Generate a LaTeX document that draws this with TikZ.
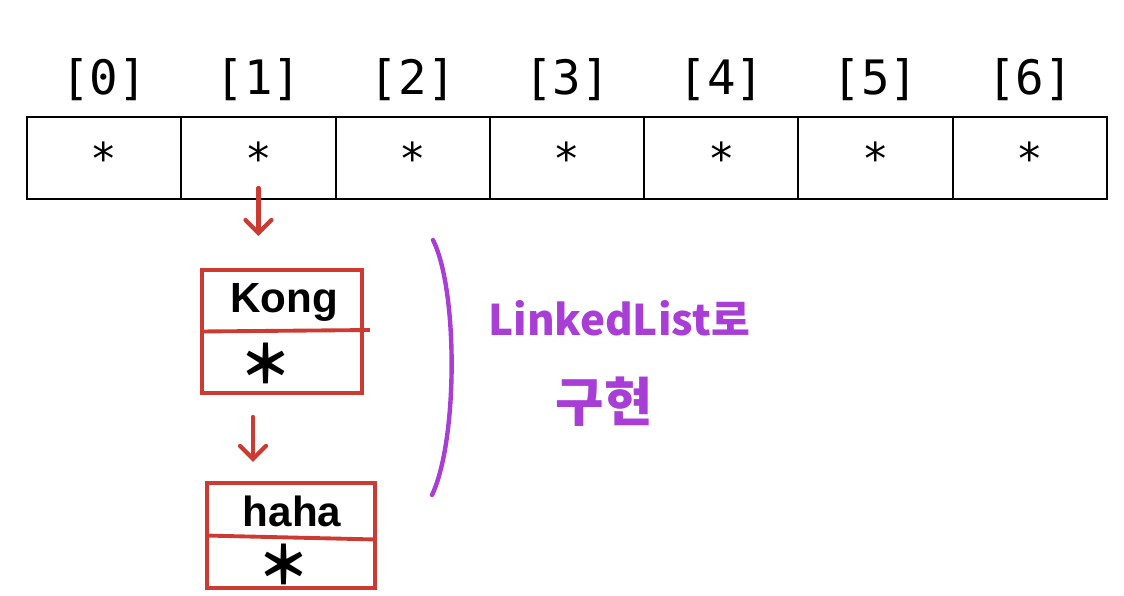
\documentclass[tikz,border=0pt]{standalone}
\usepackage{fontspec}
\setmonofont{DejaVu Sans Mono}
\newfontfamily\handfont{Liberation Sans}
\newfontfamily\kofont{Noto Sans CJK KR}
\usetikzlibrary{arrows.meta}
\definecolor{listred}{RGB}{204,58,50}
\definecolor{notepurple}{RGB}{168,62,214}
\tikzset{
  cell/.style={draw, line width=1.1pt, minimum width=3.086cm, minimum height=1.64cm, inner sep=0pt, font=\ttfamily\fontsize{25}{25}\selectfont},
  idx/.style={inner sep=0pt, font=\ttfamily\fontsize{27}{27}\selectfont},
  nodebox/.style={draw=listred, line width=2.2pt, inner sep=0pt},
  hand/.style={inner sep=0pt, font=\handfont\bfseries\fontsize{24}{24}\selectfont},
  star/.style={inner sep=0pt, font=\kofont\bfseries\fontsize{30}{30}\selectfont},
  ptr/.style={draw=listred, line width=2.4pt, line cap=round, -{Straight Barb[length=0.26cm, width=0.52cm, line cap=round]}},
  note/.style={inner sep=0pt, text=notepurple, font=\kofont\bfseries\fontsize{24}{24}\selectfont}
}
\begin{document}
\begin{tikzpicture}[x=0.02cm, y=-0.02cm]
\useasboundingbox (0,0) rectangle (1124,595);
\def\w{154.29}
\foreach \i in {0,...,6} {
  \node[cell] (c\i) at ({27+\w*\i+\w/2}, 158) {*};
  \node[idx] (i\i) at ({27+\w*\i+\w/2}, 80) {[\i]};
}

\node[nodebox, minimum width=3.2cm, minimum height=2.46cm] (kong) at (282, 331.5) {};
\node[hand] (kongtxt) at (284, 302) {Kong};
\node[star] (kongptr) at (266, 363) {＊};
\node[nodebox, minimum width=3.36cm, minimum height=2.1cm] (haha) at (291, 535.5) {};
\node[hand] (hahatxt) at (292, 511) {haha};
\node[star] (hahaptr) at (284, 564) {＊};

\draw[draw=listred, line width=2.2pt] (kong.west) -- ([xshift=0.12cm, yshift=0.03cm]kong.east);
\draw[draw=listred, line width=2.2pt] ([yshift=0.0cm]haha.west) -- ([yshift=-0.08cm]haha.east);

\draw[ptr] ([yshift=0.24cm]c1.south) -- ([yshift=-0.72cm]c1.south);
\draw[ptr] ([xshift=-0.58cm, yshift=-0.44cm]kong.south) -- ([xshift=-0.58cm, yshift=-1.34cm]kong.south);

% bracket and note
\draw[notepurple, line width=2.5pt, line cap=round] (433,240) .. controls (458,290) and (458,440) .. (432,495);
\node[note] (note1) at (619, 318) {LinkedList로};
\node[note, scale=1.25] (note2) at (604, 402) {구현};
\end{tikzpicture}
\end{document}
